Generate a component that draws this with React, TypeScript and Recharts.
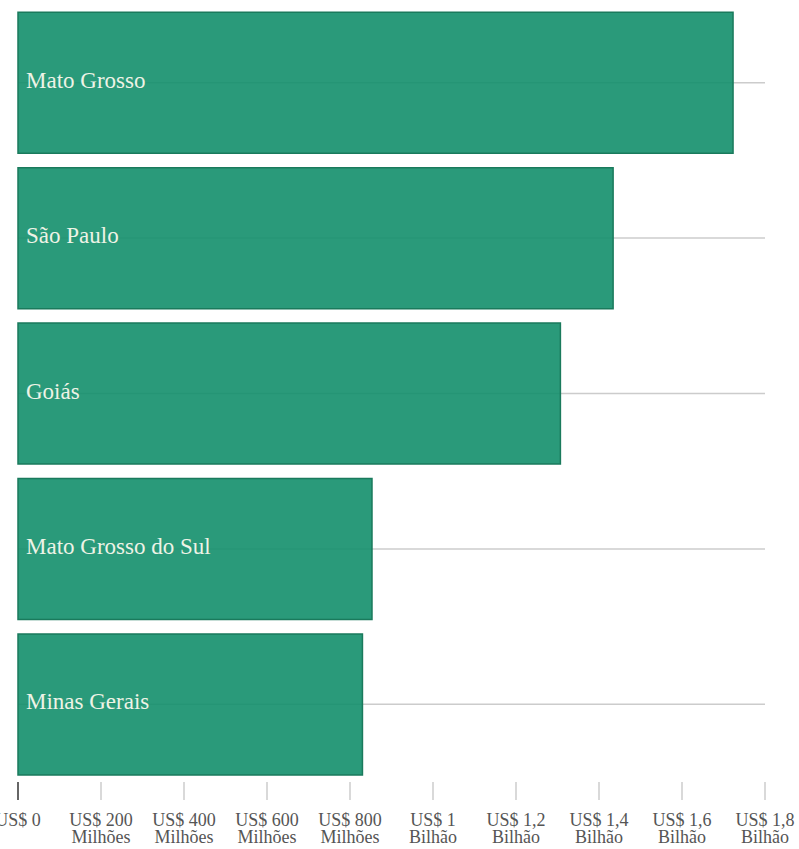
import React from 'react';
import { BarChart, Bar, XAxis, YAxis, CartesianGrid, LabelList } from 'recharts';

const states = ['Mato Grosso', 'São Paulo', 'Goiás', 'Mato Grosso do Sul', 'Minas Gerais'];
const values = [1.723e9, 1.434e9, 1.307e9, 0.853e9, 0.83e9];
const tickValues = [0, 2e8, 4e8, 6e8, 8e8, 1e9, 1.2e9, 1.4e9, 1.6e9, 1.8e9];
const tickLine1 = ['US$ 0', 'US$ 200', 'US$ 400', 'US$ 600', 'US$ 800', 'US$ 1', 'US$ 1,2', 'US$ 1,4', 'US$ 1,6', 'US$ 1,8'];
const tickLine2 = ['', 'Milhões', 'Milhões', 'Milhões', 'Milhões', 'Bilhão', 'Bilhão', 'Bilhão', 'Bilhão', 'Bilhão'];

const data = states.map((name, i) => ({ name, value: values[i] }));

const FONT = 'Liberation Serif';

const XTick = (props: any) => {
  const { x, y, payload } = props;
  const i = tickValues.indexOf(payload.value);
  return (
    <g>
      <line x1={x} x2={x} y1={y} y2={y + 18} stroke={payload.value === 0 ? '#333' : '#ccc'} strokeWidth={1.5} />
      <text x={x} y={y + 44} textAnchor="middle" fill="#555" fontFamily={FONT} fontSize={18}>
        <tspan x={x}>{tickLine1[i]}</tspan>
        {tickLine2[i] ? <tspan x={x} dy={17}>{tickLine2[i]}</tspan> : null}
      </text>
    </g>
  );
};

const EmptyTick = () => <g />;

const BarLabel = (props: any) => {
  const { x, y, height, value } = props;
  return (
    <text x={x + 8} y={y + height / 2 + 5} fill="#eef3e6" fontFamily={FONT} fontSize={23}>
      {value}
    </text>
  );
};

export default function App() {
  return (
    <div style={{ position: 'absolute', left: 0, top: 0, width: 799, height: 849, background: '#fff' }}>
      <BarChart
        width={799}
        height={849}
        data={data}
        layout="vertical"
        margin={{ top: 5, right: 34, bottom: 0, left: 18 }}
        barCategoryGap="4.7%"
      >
        <CartesianGrid vertical={false} stroke="#ccc" strokeWidth={1.5} syncWithTicks />
        <XAxis
          type="number"
          domain={[0, 1.8e9]}
          ticks={tickValues}
          axisLine={false}
          tickLine={false}
          tickSize={0}
          tickMargin={0}
          height={67}
          tick={<XTick />}
          interval={0}
        />
        <YAxis type="category" dataKey="name" width={0} tick={<EmptyTick />} tickLine={false} interval={0} axisLine={{ stroke: '#333', strokeWidth: 1.5 }} />
        <Bar dataKey="value" fill="#138f6c" fillOpacity={0.9} stroke="#1a7a5c" strokeWidth={1.5} isAnimationActive={false}>
          <LabelList dataKey="name" content={<BarLabel />} />
        </Bar>
      </BarChart>
    </div>
  );
}
